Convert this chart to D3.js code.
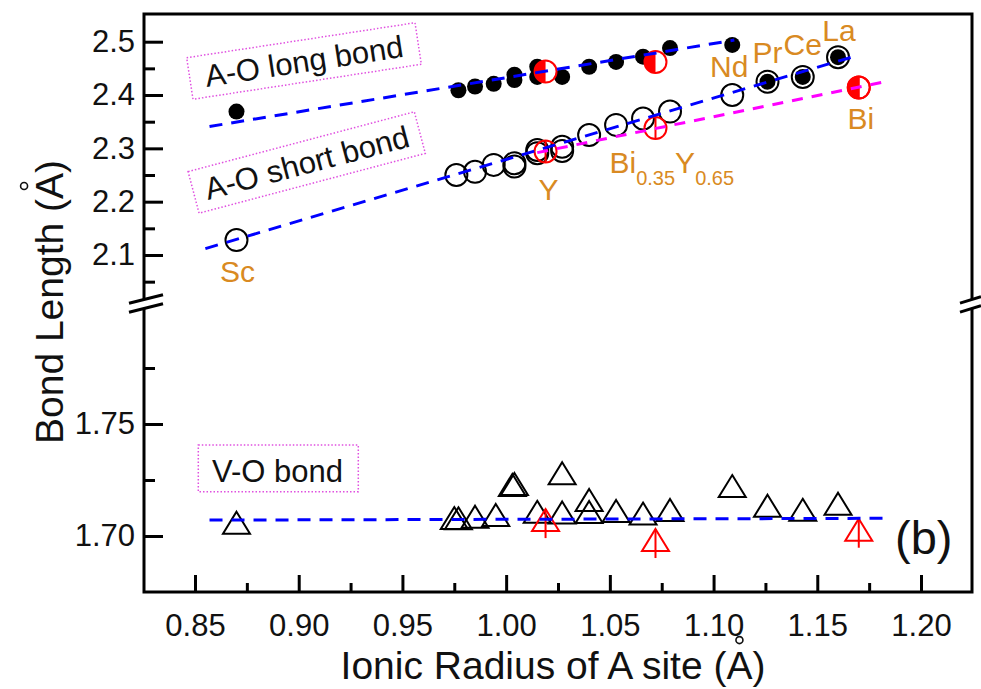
<!DOCTYPE html>
<html>
<head>
<meta charset="utf-8">
<script src="https://cdn.jsdelivr.net/npm/d3@7"></script>
<style>body{margin:0;background:#fff;}</style>
</head>
<body>
<script>
// values
var longR  = [0.870, 0.977, 0.985, 0.994, 1.004, 1.004, 1.015, 1.015, 1.027, 1.040, 1.053, 1.066, 1.079, 1.109, 1.126, 1.143, 1.160];
var longBL = [2.369, 2.409, 2.416, 2.421, 2.438, 2.428, 2.453, 2.434, 2.434, 2.453, 2.462, 2.472, 2.488, 2.494, 2.425, 2.434, 2.471];

var shortR  = [0.870, 0.976, 0.985, 0.994, 1.004, 1.004, 1.015, 1.015, 1.027, 1.027, 1.040, 1.053, 1.066, 1.079, 1.109, 1.126, 1.143, 1.160];
var shortBL = [2.128, 2.250, 2.256, 2.269, 2.272, 2.266, 2.297, 2.291, 2.303, 2.295, 2.325, 2.344, 2.356, 2.369, 2.400, 2.425, 2.434, 2.471];

var voR  = [0.870, 0.975, 0.977, 0.985, 0.995, 1.003, 1.004, 1.015, 1.027, 1.027, 1.040, 1.040, 1.053, 1.066, 1.079, 1.109, 1.126, 1.143, 1.160];
var voBL = [1.7059, 1.7080, 1.7079, 1.7086, 1.7094, 1.7228, 1.7232, 1.7108, 1.7280, 1.7105, 1.7161, 1.7107, 1.7112, 1.7100, 1.7116, 1.7223, 1.7135, 1.7117, 1.7144];

// Bi / Y substituted samples (red)
var biR       = [1.019, 1.072, 1.170];
var biLong    = [2.444, 2.462, 2.414];
var biShort   = [2.294, 2.338, 2.414];
var biVO      = [1.7071, 1.6982, 1.7028];

// fitted lines (end points)
var longFitR = [0.857, 1.110], longFitBL = [2.341, 2.503];
var shortFitR = [0.855, 1.170], shortFitBL = [2.112, 2.475];
var biFitR = [1.015, 1.184], biFitBL = [2.292, 2.426];
var voFitR = [0.857, 1.183], voFitBL = [1.7071, 1.7079];

var xTicks = [0.85, 0.90, 0.95, 1.00, 1.05, 1.10, 1.15, 1.20];
var xMinor = [0.875, 0.925, 0.975, 1.025, 1.075, 1.125, 1.175];
var yUpTicks = [2.1, 2.2, 2.3, 2.4, 2.5];
var yUpMinor = [2.05, 2.15, 2.25, 2.35, 2.45];
var yLoTicks = [1.70, 1.75];
var yLoMinor = [1.725, 1.775];

var FONT = "'Liberation Sans', Arial, sans-serif";
var ORANGE = "#d98a22";
var W = 981, H = 689;
var fr = {l: 144, r: 972, t: 14, b: 592};
var brk = 304;

var svg = d3.select("body").append("svg")
    .attr("width", W).attr("height", H)
    .style("font-family", FONT);

var x = d3.scaleLinear().domain([0.85, 1.20]).range([195, 921]);
var yUp = d3.scaleLinear().domain([2.1, 2.5]).range([255, 41.7]);
var yLo = d3.scaleLinear().domain([1.70, 1.75]).range([536, 424]);

function styleAxis(g, fs) {
    g.select(".domain").remove();
    g.selectAll("line").attr("stroke", "#000").attr("stroke-width", 3);
    g.selectAll("text").attr("font-size", fs).attr("font-family", FONT).attr("fill", "#111");
}

// axes
svg.append("g").attr("transform", "translate(0," + fr.b + ")")
    .call(d3.axisBottom(x).tickValues(xTicks).tickSize(-17).tickPadding(22).tickFormat(d3.format(".2f")))
    .call(styleAxis, 31);
svg.append("g").attr("transform", "translate(0," + fr.b + ")")
    .call(d3.axisBottom(x).tickValues(xMinor).tickSize(-9).tickFormat(""))
    .call(styleAxis, 31);
svg.append("g").attr("transform", "translate(" + fr.l + ",0)")
    .call(d3.axisLeft(yUp).tickValues(yUpTicks).tickSize(-19).tickPadding(9).tickFormat(d3.format(".1f")))
    .call(styleAxis, 31);
svg.append("g").attr("transform", "translate(" + fr.l + ",0)")
    .call(d3.axisLeft(yUp).tickValues(yUpMinor).tickSize(-11).tickFormat(""))
    .call(styleAxis, 31);
svg.append("g").attr("transform", "translate(" + fr.l + ",0)")
    .call(d3.axisLeft(yLo).tickValues(yLoTicks).tickSize(-19).tickPadding(9).tickFormat(d3.format(".2f")))
    .call(styleAxis, 31);
svg.append("g").attr("transform", "translate(" + fr.l + ",0)")
    .call(d3.axisLeft(yLo).tickValues(yLoMinor).tickSize(-11).tickFormat(""))
    .call(styleAxis, 31);

// frame
svg.append("rect")
    .attr("x", fr.l).attr("y", fr.t)
    .attr("width", fr.r - fr.l).attr("height", fr.b - fr.t)
    .attr("fill", "none").attr("stroke", "#000").attr("stroke-width", 3);

// axis breaks
function axisBreak(ax, w1, w2, slope) {
    var y1 = function (px) { return brk - 4.5 + (px - ax) * slope; };
    var y2 = function (px) { return brk + 4.5 + (px - ax) * slope; };
    svg.append("path")
        .attr("d", "M" + (ax - 4) + "," + y1(ax - 4) + "L" + (ax + 4) + "," + y1(ax + 4) +
                   "L" + (ax + 4) + "," + y2(ax + 4) + "L" + (ax - 4) + "," + y2(ax - 4) + "Z")
        .attr("fill", "#fff");
    [y1, y2].forEach(function (f) {
        svg.append("line")
            .attr("x1", ax - w1).attr("y1", f(ax - w1))
            .attr("x2", ax + w2).attr("y2", f(ax + w2))
            .attr("stroke", "#000").attr("stroke-width", 3);
    });
}
axisBreak(fr.l, 15, 19, -0.25);
axisBreak(fr.r, 12, 9, -0.3);

// label boxes
function boxLabel(cx, cy, ang, w, h, txt) {
    var g = svg.append("g").attr("transform", "translate(" + cx + "," + cy + ") rotate(" + ang + ")");
    g.append("rect").attr("x", -w / 2).attr("y", -h / 2).attr("width", w).attr("height", h)
        .attr("fill", "none").attr("stroke", "#e050e0").attr("stroke-width", 1.5)
        .attr("stroke-dasharray", "1.5,2");
    g.append("text").attr("x", 0).attr("y", 11).attr("text-anchor", "middle")
        .attr("font-size", 31).attr("fill", "#111").text(txt);
}
boxLabel(304, 61, -8.7, 231, 42, "A-O long bond");
boxLabel(306.7, 162.5, -14.8, 234, 43, "A-O short bond");
svg.append("rect").attr("x", 198.3).attr("y", 445).attr("width", 160).attr("height", 46.7)
    .attr("fill", "none").attr("stroke", "#e050e0").attr("stroke-width", 1.5)
    .attr("stroke-dasharray", "1.5,2");
svg.append("text").attr("x", 212).attr("y", 481.7).attr("font-size", 31).attr("fill", "#111").text("V-O bond");

// markers
var pts = function (xs, ys) { return xs.map(function (v, i) { return [v, ys[i]]; }); };
var tri = "M0,-11L13.5,11L-13.5,11Z";

var mk = svg.append("g");
mk.selectAll(".vo").data(pts(voR, voBL)).enter().append("path")
    .attr("transform", function (d) { return "translate(" + x(d[0]) + "," + yLo(d[1]) + ")"; })
    .attr("d", tri).attr("fill", "none").attr("stroke", "#000").attr("stroke-width", 2);

var rv = mk.selectAll(".rvo").data(pts(biR, biVO)).enter().append("g")
    .attr("transform", function (d) { return "translate(" + x(d[0]) + "," + yLo(d[1]) + ")"; });
rv.append("path").attr("d", tri).attr("fill", "none").attr("stroke", "#ff0000").attr("stroke-width", 2);
rv.append("line").attr("x1", 0).attr("x2", 0).attr("y1", -11).attr("y2", 18)
    .attr("stroke", "#ff0000").attr("stroke-width", 2);

mk.selectAll(".sh").data(pts(shortR, shortBL)).enter().append("circle")
    .attr("cx", function (d) { return x(d[0]); }).attr("cy", function (d) { return yUp(d[1]); })
    .attr("r", 11).attr("fill", "none").attr("stroke", "#000").attr("stroke-width", 2);

mk.selectAll(".lg").data(pts(longR, longBL)).enter().append("circle")
    .attr("cx", function (d) { return x(d[0]); }).attr("cy", function (d) { return yUp(d[1]); })
    .attr("r", 8).attr("fill", "#000");

var rl = mk.selectAll(".rl").data(pts(biR, biLong)).enter().append("g")
    .attr("transform", function (d) { return "translate(" + x(d[0]) + "," + yUp(d[1]) + ")"; });
rl.append("circle").attr("r", 11).attr("fill", "#fff").attr("stroke", "#ff0000").attr("stroke-width", 2);
rl.append("path").attr("d", "M0,-11A11,11 0 0 0 0,11Z").attr("fill", "#ff0000");

var rs = mk.selectAll(".rs").data(pts(biR, biShort)).enter().append("g")
    .attr("transform", function (d) { return "translate(" + x(d[0]) + "," + yUp(d[1]) + ")"; });
rs.append("circle").attr("r", 11).attr("fill", "none").attr("stroke", "#ff0000").attr("stroke-width", 2);
rs.append("line").attr("x1", 0).attr("x2", 0).attr("y1", -11).attr("y2", 11)
    .attr("stroke", "#ff0000").attr("stroke-width", 2);

// fit lines
function fit(xs, ys, y, col, dash) {
    svg.append("path").datum(pts(xs, ys))
        .attr("d", d3.line().x(function (d) { return x(d[0]); }).y(function (d) { return y(d[1]); }))
        .attr("fill", "none").attr("stroke", col).attr("stroke-width", 3)
        .attr("stroke-dasharray", dash);
}
fit(longFitR, longFitBL, yUp, "#0000ff", "13,9");
fit(shortFitR, shortFitBL, yUp, "#0000ff", "13,9");
fit(biFitR, biFitBL, yUp, "#ff00ff", "11,9");
fit(voFitR, voFitBL, yLo, "#0000ff", "13,9");

// element labels
function elLabel(px, py, txt, anchor) {
    return svg.append("text").attr("x", px).attr("y", py).attr("text-anchor", anchor || "middle")
        .attr("font-size", 30).attr("fill", ORANGE).text(txt);
}
elLabel(x(0.870) + 1, yUp(2.128) + 42, "Sc");
elLabel(x(1.019) + 3, yUp(2.294) + 48, "Y");
elLabel(x(1.109) - 3, yUp(2.494) + 32, "Nd");
elLabel(x(1.126), yUp(2.425) - 19, "Pr");
elLabel(x(1.143), yUp(2.434) - 22, "Ce");
elLabel(x(1.160) + 1, yUp(2.471) - 16, "La");
elLabel(x(1.170) + 2, yUp(2.414) + 41, "Bi");
var by = elLabel(x(1.072) - 46, yUp(2.338) + 45, "Bi", "start");
by.append("tspan").attr("font-size", 20).attr("dy", 12).text("0.35");
by.append("tspan").attr("dy", -12).text("Y");
by.append("tspan").attr("font-size", 20).attr("dy", 12).text("0.65");

svg.append("text").attr("x", 895).attr("y", 554).attr("font-size", 47).attr("fill", "#111").text("(b)");

// axis titles, with the angstrom ring set above the A
function ringOver(g, t, idx, fs) {
    var e = t.node().getExtentOfChar(idx);
    var base = +t.attr("y") || 0;
    g.append("circle").attr("cx", e.x + e.width / 2).attr("cy", base - 0.716 * fs - 11)
        .attr("r", 3.5).attr("fill", "none").attr("stroke", "#111").attr("stroke-width", 1.6);
}
var xt = "Ionic Radius of A site (A)";
var gx = svg.append("g");
var tx = gx.append("text").attr("x", 553).attr("y", 679).attr("text-anchor", "middle")
    .attr("font-size", 39).attr("fill", "#111").text(xt);
ringOver(gx, tx, xt.length - 2, 39);

var yt = "Bond Length (A)";
var gy = svg.append("g").attr("transform", "translate(63,302) rotate(-90)");
var ty = gy.append("text").attr("x", 0).attr("y", 0).attr("text-anchor", "middle")
    .attr("font-size", 39).attr("fill", "#111").text(yt);
ringOver(gy, ty, yt.length - 2, 39);
</script>
</body>
</html>
